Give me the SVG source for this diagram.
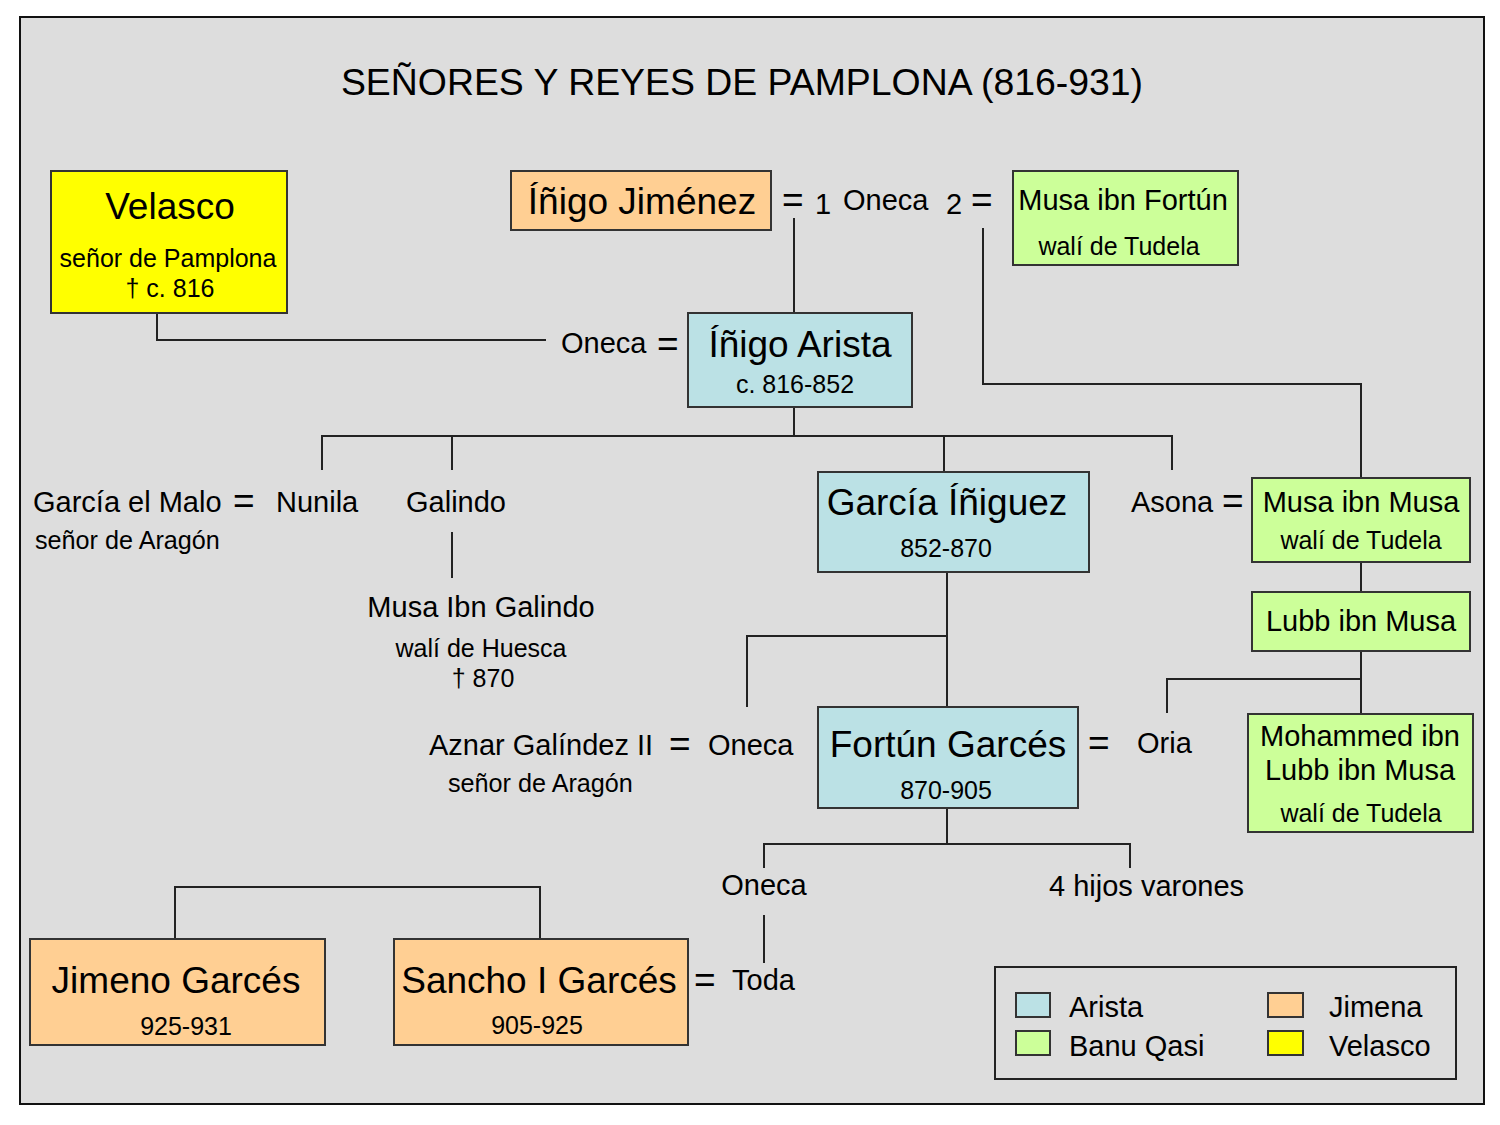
<svg xmlns="http://www.w3.org/2000/svg" width="1500" height="1125" viewBox="0 0 1500 1125">
<style>
text{font-family:"Liberation Sans",Arial,sans-serif;fill:#000}
.big{font-size:37px}
.mid{font-size:29px}
.sm{font-size:25px}
.ar{font-size:25.2px}
.eq{font-size:37px}
.c{text-anchor:middle}
.box{stroke:#333;stroke-width:2}
.blue{fill:#BBE1E5}
.green{fill:#CCFF99}
.orange{fill:#FFCF93}
.yellow{fill:#FFFF00}
.con{fill:none;stroke:#222;stroke-width:2}
</style>
<rect x="0" y="0" width="1500" height="1125" fill="#FFFFFF"/>
<rect x="20" y="17" width="1464" height="1087" fill="#DDDDDD" stroke="#111" stroke-width="2"/>
<text x="742" y="95" class="c" style="font-size:37.4px">SEÑORES Y REYES DE PAMPLONA (816-931)</text>

<g id="connectors" class="con">
<path d="M157,313 V340 H546"/>
<path d="M794,218 V313"/>
<path d="M983,228 V384 H1361 V478"/>
<path d="M794,407 V436"/>
<path d="M322,470 V436 H1172 V470"/>
<path d="M452,436 V470"/>
<path d="M944,436 V472"/>
<path d="M452,532 V578"/>
<path d="M947,572 V707"/>
<path d="M747,707 V636 H947"/>
<path d="M1361,562 V592"/>
<path d="M1361,651 V714"/>
<path d="M1167,713 V679 H1361"/>
<path d="M947,808 V844"/>
<path d="M764,868 V844 H1130 V868"/>
<path d="M764,915 V963"/>
<path d="M175,939 V887 H540 V939"/>
</g>

<g id="velasco">
<rect x="51" y="171" width="236" height="142" class="box yellow"/>
<text x="170" y="219" class="big c">Velasco</text>
<text x="168" y="267" class="sm c">señor de Pamplona</text>
<text x="170" y="297" class="sm c">† c. 816</text>
</g>

<g id="inigo-jimenez">
<rect x="511" y="171" width="260" height="59" class="box orange"/>
<text x="642" y="214" class="big c">Íñigo Jiménez</text>
</g>

<g id="oneca-1">
<text x="782" y="212" class="eq">=</text>
<text x="815" y="214" class="mid">1</text>
<text x="843" y="210" class="mid">Oneca</text>
<text x="946" y="214" class="mid">2</text>
<text x="971" y="212" class="eq">=</text>
</g>

<g id="musa-ibn-fortun">
<rect x="1013" y="171" width="225" height="94" class="box green"/>
<text x="1123" y="210" class="mid c">Musa ibn Fortún</text>
<text x="1119" y="255" class="sm c">walí de Tudela</text>
</g>

<g id="oneca-2">
<text x="561" y="353" class="mid">Oneca</text>
<text x="657" y="356" class="eq">=</text>
</g>

<g id="inigo-arista">
<rect x="688" y="313" width="224" height="94" class="box blue"/>
<text x="800" y="357" class="big c">Íñigo Arista</text>
<text x="795" y="393" class="sm c">c. 816-852</text>
</g>

<g id="garcia-el-malo">
<text x="33" y="512" class="mid">García el Malo</text>
<text x="233" y="513" class="eq">=</text>
<text x="35" y="549" class="ar">señor de Aragón</text>
</g>

<g id="nunila">
<text x="276" y="512" class="mid">Nunila</text>
</g>

<g id="galindo">
<text x="406" y="512" class="mid">Galindo</text>
</g>

<g id="musa-ibn-galindo">
<text x="481" y="617" class="mid c">Musa Ibn Galindo</text>
<text x="481" y="657" class="sm c">walí de Huesca</text>
<text x="483" y="687" class="sm c">† 870</text>
</g>

<g id="garcia-iniguez">
<rect x="818" y="472" width="271" height="100" class="box blue"/>
<text x="947" y="515" class="big c">García Íñiguez</text>
<text x="946" y="557" class="sm c">852-870</text>
</g>

<g id="asona">
<text x="1131" y="512" class="mid">Asona</text>
<text x="1222" y="513" class="eq">=</text>
</g>

<g id="musa-ibn-musa">
<rect x="1252" y="478" width="218" height="84" class="box green"/>
<text x="1361" y="512" class="mid c">Musa ibn Musa</text>
<text x="1361" y="549" class="sm c">walí de Tudela</text>
</g>

<g id="lubb-ibn-musa">
<rect x="1252" y="592" width="218" height="59" class="box green"/>
<text x="1361" y="631" class="mid c">Lubb ibn Musa</text>
</g>

<g id="oria">
<text x="1088" y="755" class="eq">=</text>
<text x="1137" y="753" class="mid">Oria</text>
</g>

<g id="mohammed">
<rect x="1248" y="714" width="225" height="118" class="box green"/>
<text x="1360" y="746" class="mid c">Mohammed ibn</text>
<text x="1360" y="780" class="mid c">Lubb ibn Musa</text>
<text x="1361" y="822" class="sm c">walí de Tudela</text>
</g>

<g id="aznar-galindez">
<text x="429" y="755" class="mid">Aznar Galíndez II</text>
<text x="669" y="756" class="eq">=</text>
<text x="448" y="792" class="ar">señor de Aragón</text>
</g>

<g id="oneca-3">
<text x="708" y="755" class="mid">Oneca</text>
</g>

<g id="fortun-garces">
<rect x="818" y="707" width="260" height="101" class="box blue"/>
<text x="948" y="757" class="big c">Fortún Garcés</text>
<text x="946" y="799" class="sm c">870-905</text>
</g>

<g id="oneca-4">
<text x="764" y="895" class="mid c">Oneca</text>
</g>

<g id="hijos-varones">
<text x="1049" y="896" class="mid">4 hijos varones</text>
</g>

<g id="toda">
<text x="694" y="992" class="eq">=</text>
<text x="732" y="990" class="mid">Toda</text>
</g>

<g id="sancho-garces">
<rect x="394" y="939" width="294" height="106" class="box orange"/>
<text x="539" y="993" class="big c">Sancho I Garcés</text>
<text x="537" y="1034" class="sm c">905-925</text>
</g>

<g id="jimeno-garces">
<rect x="30" y="939" width="295" height="106" class="box orange"/>
<text x="176" y="993" class="big c">Jimeno Garcés</text>
<text x="186" y="1035" class="sm c">925-931</text>
</g>

<g id="legend">
<rect x="995" y="967" width="461" height="112" fill="none" stroke="#222" stroke-width="2"/>
<rect x="1016" y="993" width="34" height="24" class="box blue"/>
<text x="1069" y="1017" class="mid">Arista</text>
<rect x="1016" y="1031" width="34" height="24" class="box green"/>
<text x="1069" y="1056" class="mid">Banu Qasi</text>
<rect x="1268" y="993" width="35" height="24" class="box orange"/>
<text x="1329" y="1017" class="mid">Jimena</text>
<rect x="1268" y="1031" width="35" height="24" class="box yellow"/>
<text x="1329" y="1056" class="mid">Velasco</text>
</g>
</svg>
